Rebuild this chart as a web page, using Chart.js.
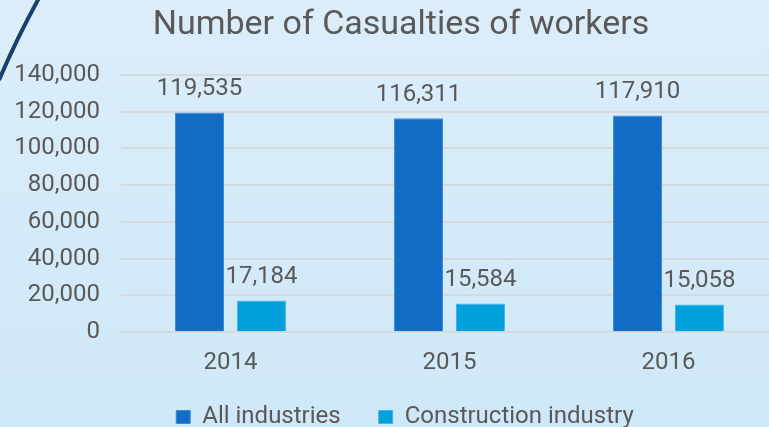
<!DOCTYPE html>
<html>
<head>
<meta charset="utf-8">
<script src="https://cdn.jsdelivr.net/npm/chart.js@4/dist/chart.umd.min.js"></script>
<style>
  html, body { margin: 0; padding: 0; overflow: hidden; }
  body { width: 769px; height: 427px; background: linear-gradient(#dcedfa, #cfe8f7); }
  #wrap { position: relative; width: 790px; height: 427px; }
</style>
</head>
<body>
<div id="wrap"><canvas id="chart" width="790" height="427"></canvas></div>
<script>
const years = ['2014', '2015', '2016'];
const allIndustries = [119535, 116311, 117910];
const construction = [17184, 15584, 15058];
const yTicks = [0, 20000, 40000, 60000, 80000, 100000, 120000, 140000];

const TEXT = '#595959';
const FONT = 'Roboto';

// thin navy stroke in the top-left corner of the slide
const cornerArc = {
  id: 'cornerArc',
  beforeDraw(chart) {
    const { ctx } = chart;
    ctx.save();
    ctx.strokeStyle = '#17406d';
    ctx.lineWidth = 4;
    ctx.beginPath();
    ctx.moveTo(39, -2);
    ctx.quadraticCurveTo(17, 38, -1, 80);
    ctx.stroke();
    ctx.restore();
  },
};

// title a bit right of centre; legend placed lower-middle with wide item gaps
const nudge = {
  id: 'nudge',
  afterLayout(chart) {
    const t = chart.titleBlock;
    t.left += 12; t.right += 12;
    const l = chart.legend;
    l.left += 16; l.right += 16;
    l.top = 367;
    l.bottom = 467;
    l.height = 100;
  },
};

// value labels above the bars
const barLabels = {
  id: 'barLabels',
  afterDatasetsDraw(chart) {
    const { ctx } = chart;
    ctx.save();
    ctx.font = `24px ${FONT}`;
    ctx.fillStyle = TEXT;
    ctx.textAlign = 'center';
    ctx.textBaseline = 'alphabetic';
    chart.data.datasets.forEach((ds, i) => {
      chart.getDatasetMeta(i).data.forEach((bar, j) => {
        ctx.fillText(ds.data[j].toLocaleString('en-US'), bar.x, bar.y - 17.5);
      });
    });
    ctx.restore();
  },
};

new Chart(document.getElementById('chart'), {
  type: 'bar',
  data: {
    labels: years,
    datasets: [
      {
        label: 'All industries',
        data: allIndustries,
        backgroundColor: '#106cc4',
        borderColor: '#3b8ad6',
        borderWidth: 1,
        categoryPercentage: 0.566,
        barPercentage: 0.79,
      },
      {
        label: 'Construction industry',
        data: construction,
        backgroundColor: '#00a0dc',
        borderColor: '#3fb6e6',
        borderWidth: 1,
        categoryPercentage: 0.566,
        barPercentage: 0.79,
      },
    ],
  },
  options: {
    responsive: false,
    animation: false,
    devicePixelRatio: 1,
    layout: { padding: { left: 0, right: 12, top: 0, bottom: 0 } },
    plugins: {
      title: {
        display: true,
        text: 'Number of Casualties of workers',
        color: TEXT,
        font: { family: FONT, size: 34, weight: 'normal' },
        padding: { top: 5, bottom: 29 },
      },
      legend: {
        position: 'bottom',
        maxHeight: 34,
        labels: {
          color: TEXT,
          font: { family: FONT, size: 24 },
          boxWidth: 14,
          boxHeight: 13,
          padding: 38,
        },
      },
      tooltip: { enabled: false },
    },
    scales: {
      x: {
        grid: { display: false, drawTicks: false },
        border: { display: false },
        ticks: { color: TEXT, font: { family: FONT, size: 24 }, padding: 16 },
      },
      y: {
        min: 0,
        max: 140000,
        grid: { color: '#d6d9dc', lineWidth: 2, drawTicks: false },
        border: { display: false },
        afterBuildTicks: (s) => { s.ticks = yTicks.map(v => ({ value: v })); },
        ticks: {
          color: TEXT,
          font: { family: FONT, size: 24 },
          padding: 21,
          callback: (v) => v.toLocaleString('en-US'),
        },
        afterFit: (s) => { s.width = 121; },
      },
    },
  },
  plugins: [cornerArc, nudge, barLabels],
});
</script>
</body>
</html>
